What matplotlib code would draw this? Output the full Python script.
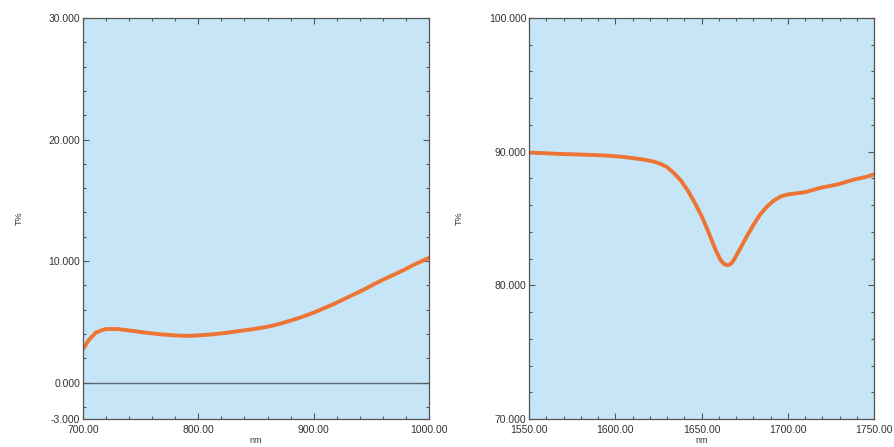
"""
Two transmission spectra (T% vs nm) side by side, spectrometer style.
"""

import matplotlib

matplotlib.use("Agg")
import matplotlib.pyplot as plt
from matplotlib.ticker import FormatStrFormatter, MultipleLocator


# ---------------------------------------------------------------------
# Data
# ---------------------------------------------------------------------

left_nm = [700, 705, 711, 716, 720, 730, 743, 755, 767, 780, 790, 800,
           813, 825, 836, 846, 856, 865, 874, 887, 900, 908, 917, 926,
           935, 944, 952, 961, 970, 979, 987, 994, 1000]
left_t = [2.75, 3.5, 4.1, 4.3, 4.4, 4.4, 4.25, 4.1, 3.97, 3.88, 3.84, 3.88,
          3.97, 4.1, 4.25, 4.38, 4.52, 4.7, 4.93, 5.3, 5.75, 6.08, 6.44, 6.85,
          7.26, 7.67, 8.08, 8.5, 8.9, 9.3, 9.7, 10.0, 10.27]

right_nm = [1550, 1560, 1568, 1578, 1588, 1596, 1603, 1610, 1617, 1622, 1626,
            1630, 1634, 1638, 1642, 1646, 1650, 1654, 1658, 1661, 1663, 1665,
            1667, 1669, 1672, 1676, 1680, 1684, 1688, 1692, 1696, 1700, 1705,
            1710, 1719, 1729, 1738, 1745, 1750]
right_t = [89.93, 89.88, 89.83, 89.79, 89.75, 89.7, 89.63, 89.52, 89.4, 89.27,
           89.1, 88.85, 88.4, 87.85, 87.1, 86.2, 85.2, 84.0, 82.7, 81.9, 81.6,
           81.5, 81.6, 81.95, 82.65, 83.6, 84.5, 85.3, 85.9, 86.35, 86.65, 86.8,
           86.88, 86.97, 87.3, 87.55, 87.9, 88.1, 88.3]

left_xlim = (700, 1000)
left_ylim = (-3, 30)
right_xlim = (1550, 1750)
right_ylim = (70, 100)

BG_COLOR = "#c6e6f8"
LINE_COLOR = "#ee7433"
FRAME_COLOR = "#555555"
TEXT_COLOR = "#333333"

plt.rcParams["font.family"] = ["Liberation Sans", "DejaVu Sans"]


# ---------------------------------------------------------------------
# Helpers
# ---------------------------------------------------------------------

def style_axes(ax, xlim, ylim, x_major, x_minor, y_minor):
    """Apply the instrument-software look to one panel."""

    ax.set_facecolor(BG_COLOR)
    ax.set_xlim(*xlim)
    ax.set_ylim(*ylim)

    ax.set_xticks(list(range(xlim[0], xlim[1] + 1, x_major)))
    ax.xaxis.set_minor_locator(MultipleLocator(x_minor))
    ax.yaxis.set_minor_locator(MultipleLocator(y_minor))

    ax.xaxis.set_major_formatter(FormatStrFormatter("%.2f"))
    ax.yaxis.set_major_formatter(FormatStrFormatter("%.3f"))

    ax.tick_params(which="both", direction="in", top=True, right=True,
                   colors=FRAME_COLOR, labelcolor=TEXT_COLOR, labelsize=7.5)
    ax.tick_params(which="major", length=4, width=0.8)
    ax.tick_params(which="minor", length=2, width=0.8)
    ax.tick_params(axis="x", pad=4)
    ax.tick_params(axis="y", pad=2)

    for spine in ax.spines.values():
        spine.set_color(FRAME_COLOR)
        spine.set_linewidth(0.9)

    ax.set_xlabel("nm", fontsize=6.5, color=TEXT_COLOR, labelpad=1)
    ax.set_ylabel("T%", fontsize=6.5, color=TEXT_COLOR, labelpad=18)


# ---------------------------------------------------------------------
# Main
# ---------------------------------------------------------------------

def main() -> None:
    fig = plt.figure(figsize=(8.94, 4.47), dpi=100)

    ax_left = fig.add_axes([83 / 894, 28 / 447, 346 / 894, 401 / 447])
    ax_right = fig.add_axes([529 / 894, 28 / 447, 345 / 894, 401 / 447])

    style_axes(ax_left, left_xlim, left_ylim, 100, 20, 2)
    ax_left.set_yticks([-3, 0, 10, 20, 30])
    ax_left.axhline(0, color="#5a6a72", linewidth=1.0, zorder=1)
    ax_left.plot(left_nm, left_t, color=LINE_COLOR, linewidth=2.8,
                 solid_capstyle="round", solid_joinstyle="round", zorder=2)

    style_axes(ax_right, right_xlim, right_ylim, 50, 10, 2)
    ax_right.set_yticks([70, 80, 90, 100])
    ax_right.plot(right_nm, right_t, color=LINE_COLOR, linewidth=2.8,
                  solid_capstyle="round", solid_joinstyle="round", zorder=2)

    fig.savefig("out.png", dpi=100, facecolor="white")
    plt.close(fig)


if __name__ == "__main__":
    main()
